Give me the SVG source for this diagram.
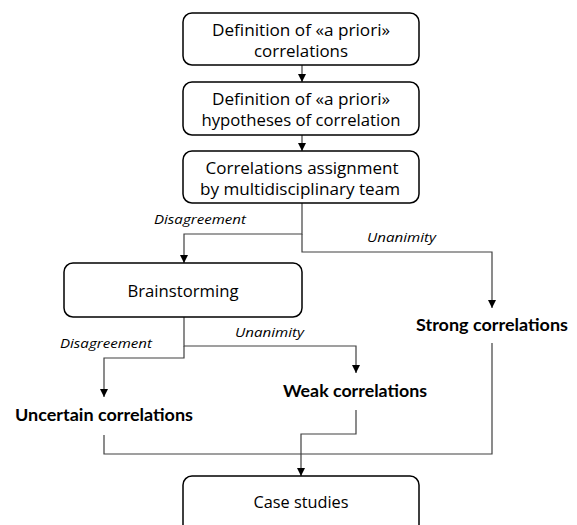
<svg xmlns="http://www.w3.org/2000/svg" width="577" height="525" viewBox="0 0 577 525">
<style>
.box{fill:#fff;stroke:#000;stroke-width:1.5}
.t{font-family:"Open Sans","Noto Sans","Liberation Sans",sans-serif;font-size:16px;fill:#000;text-anchor:middle}
.b{font-family:Lato,"Open Sans","Liberation Sans",sans-serif;font-size:17px;font-weight:bold;fill:#000}
.i{font-family:"Open Sans","Noto Sans","Liberation Sans",sans-serif;font-size:13px;font-style:italic;fill:#000}
.c{fill:none;stroke:#404040;stroke-width:1.2}
</style>
<defs>
<marker id="arr" viewBox="0 0 10 10" refX="10" refY="5" markerWidth="8" markerHeight="8" markerUnits="userSpaceOnUse" orient="auto">
<path d="M0,0 L10,5 L0,10 Z" fill="#000"/>
</marker>
</defs>
<rect width="577" height="525" fill="#fff"/>
<g id="connectors">
<path class="c" d="M302,65 V82" marker-end="url(#arr)"/>
<path class="c" d="M302,135 V151" marker-end="url(#arr)"/>
<path class="c" d="M302,203 V234 H184 V263" marker-end="url(#arr)"/>
<path class="c" d="M302,234 V252 H492 V308" marker-end="url(#arr)"/>
<path class="c" d="M184,317 V346 H356 V373" marker-end="url(#arr)"/>
<path class="c" d="M184,346 V358 H104 V397" marker-end="url(#arr)"/>
<path class="c" d="M104,435 V454 H492 V343"/>
<path class="c" d="M356,410 V434 H301 V476" marker-end="url(#arr)"/>
</g>
<g id="labels">
<text class="i" x="154" y="224" textLength="92" lengthAdjust="spacingAndGlyphs">Disagreement</text>
<text class="i" x="367" y="242" textLength="69" lengthAdjust="spacingAndGlyphs">Unanimity</text>
<text class="i" x="60" y="348" textLength="92" lengthAdjust="spacingAndGlyphs">Disagreement</text>
<text class="i" x="235" y="337" textLength="69" lengthAdjust="spacingAndGlyphs">Unanimity</text>
</g>
<g id="node-apriori-correlations">
<rect class="box" x="183" y="13" width="236" height="52" rx="9"/>
<text class="t" x="301" y="36" textLength="178" lengthAdjust="spacingAndGlyphs">Definition of «a priori»</text>
<text class="t" x="301" y="57" textLength="94" lengthAdjust="spacingAndGlyphs">correlations</text>
</g>
<g id="node-apriori-hypotheses">
<rect class="box" x="183" y="82" width="236" height="53" rx="9"/>
<text class="t" x="301" y="105" textLength="178" lengthAdjust="spacingAndGlyphs">Definition of «a priori»</text>
<text class="t" x="301" y="126" textLength="199" lengthAdjust="spacingAndGlyphs">hypotheses of correlation</text>
</g>
<g id="node-assignment">
<rect class="box" x="183" y="151" width="236" height="52" rx="9"/>
<text class="t" x="302" y="174" textLength="193" lengthAdjust="spacingAndGlyphs">Correlations assignment</text>
<text class="t" x="300" y="195" textLength="200" lengthAdjust="spacingAndGlyphs">by multidisciplinary team</text>
</g>
<g id="node-brainstorming">
<rect class="box" x="64" y="263" width="238" height="54" rx="9"/>
<text class="t" x="183" y="297" textLength="111" lengthAdjust="spacingAndGlyphs">Brainstorming</text>
</g>
<g id="node-strong">
<text class="b" x="416" y="331" textLength="152" lengthAdjust="spacingAndGlyphs">Strong correlations</text>
</g>
<g id="node-weak">
<text class="b" x="283" y="397" textLength="144" lengthAdjust="spacingAndGlyphs">Weak correlations</text>
</g>
<g id="node-uncertain">
<text class="b" x="15" y="421" textLength="178" lengthAdjust="spacingAndGlyphs">Uncertain correlations</text>
</g>
<g id="node-case-studies">
<rect class="box" x="183" y="476" width="236" height="60" rx="9"/>
<text class="t" x="301" y="508" textLength="95" lengthAdjust="spacingAndGlyphs">Case studies</text>
</g>
</svg>
